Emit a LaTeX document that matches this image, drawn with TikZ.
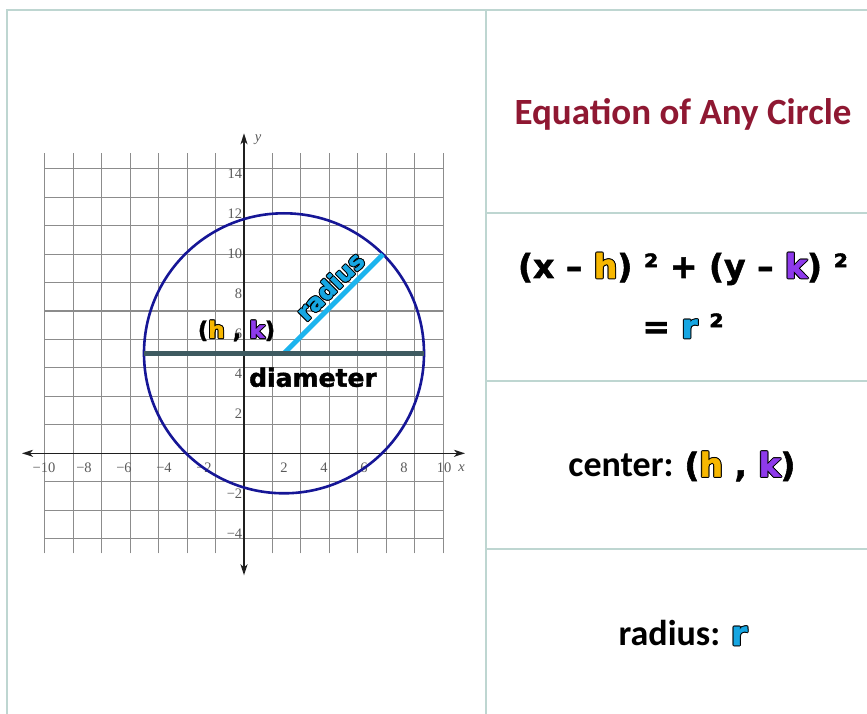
\documentclass[tikz,border=0pt]{standalone}
\usepackage{fontspec}
\setmainfont{Carlito}
\newfontfamily\dvfont{DejaVu Sans}[BoldFeatures={FakeBold=1.6}]
\newfontfamily\serfont{Liberation Serif}
\usetikzlibrary{arrows.meta}
\definecolor{tbl}{RGB}{190,214,209}
\definecolor{titlered}{RGB}{143,24,50}
\definecolor{hyel}{RGB}{247,183,0}
\definecolor{kpur}{RGB}{142,58,235}
\definecolor{rblue}{RGB}{22,166,226}
\definecolor{radline}{RGB}{28,180,238}
\definecolor{diamc}{RGB}{62,90,96}
\definecolor{circc}{RGB}{22,22,150}
\definecolor{gridc}{RGB}{140,140,140}
\definecolor{tickc}{RGB}{90,90,90}
\newcommand\heavy[1]{\dvfont\bfseries\fontsize{#1}{#1}\selectfont}
\newcommand\outl[2]{%
 \leavevmode
 \rlap{\kern1pt\textcolor{black}{#2}}%
 \rlap{\kern-1pt\textcolor{black}{#2}}%
 \rlap{\raisebox{1pt}{\textcolor{black}{#2}}}%
 \rlap{\raisebox{-1pt}{\textcolor{black}{#2}}}%
 \rlap{\kern0.7pt\raisebox{0.7pt}{\textcolor{black}{#2}}}%
 \rlap{\kern0.7pt\raisebox{-0.7pt}{\textcolor{black}{#2}}}%
 \rlap{\kern-0.7pt\raisebox{0.7pt}{\textcolor{black}{#2}}}%
 \rlap{\kern-0.7pt\raisebox{-0.7pt}{\textcolor{black}{#2}}}%
 \textcolor{#1}{#2}}
\tikzset{
  tblline/.style={draw=tbl, line width=2pt},
  gridline/.style={draw=gridc, line width=1.1pt},
  axisline/.style={draw=black!88, line width=1.4pt, {Stealth[length=11pt,width=7pt,inset=3pt]}-{Stealth[length=11pt,width=7pt,inset=3pt]}},
  ticklab/.style={text=tickc, inner sep=0pt, font=\serfont\fontsize{14.5}{14.5}\selectfont},
  txt/.style={inner sep=0pt}
}
\begin{document}
\begin{tikzpicture}[x=1pt,y=1pt]
\useasboundingbox (0,0) rectangle (867,713);
\clip (0,0) rectangle (867,713);
% table
\draw[tblline] (6.7,-5) -- (6.7,703) -- (875,703);
\draw[tblline] (485.7,-5) -- (485.7,703);
\draw[tblline] (485.7,500.3) -- (875,500.3);
\draw[tblline] (485.7,332) -- (875,332);
\draw[tblline] (485.7,163.7) -- (875,163.7);
% graph
\begin{scope}[shift={(244pt,259.7pt)}, x=20pt, y=20pt]
  \draw[gridline] (-10,-5) grid (10,15);
  \coordinate (xa) at (-11.1,0);
  \coordinate (xb) at (11.05,0);
  \coordinate (ya) at (0,-6.1);
  \coordinate (yb) at (0,16);
  \draw[axisline] (xa) -- (xb);
  \draw[axisline] (ya) -- (yb);
  \foreach \v/\t in {-10/−10,-8/−8,-6/−6,-4/−4,-2/−2,2/2,4/4,6/6,8/8,10/10}
    \node[ticklab, anchor=base] (xt\v) at (\v,-0.95) {\t};
  \foreach \v/\t in {14/14,12/12,10/10,8/8,6/6,4/4,2/2,-2/−2,-4/−4}
    \node[ticklab, anchor=east] (yt\v) at (-0.08,\v) {\t};
  \node[ticklab, anchor=base] (xlab) at (10.88,-0.93) {\itshape x};
  \node[ticklab] (ylab) at (0.7,15.67) {\itshape y};
  \coordinate (c) at (2,5);
  \coordinate (rend) at (6.95,9.95);
  \coordinate (dl) at (-5,5);
  \coordinate (dr) at (9,5);
  \draw[circc, line width=2.6pt] (c) circle[radius=7];
  \draw[radline, line width=5pt] (c) -- (rend);
  \draw[diamc, line width=5pt] (dl) -- (dr);
\end{scope}
\node[txt, anchor=base] (hk) at (236.5,375) {\heavy{23}(\outl{hyel}{h} , \outl{kpur}{k})};
\node[txt, anchor=base west] (diam) at (249,326.3) {\heavy{25}diameter};
\node[txt, rotate=45] (radlab) at (330,427) {\heavy{24}\outl{rblue}{radius}};
% right panel
\node[txt, anchor=base, text=titlered] (title) at (683,588) {\fontsize{37}{40}\selectfont\bfseries Equation of Any Circle};
\node[txt, anchor=base] (eq1) at (683,435) {\heavy{33}(x – \outl{hyel}{h}) ² + (y – \outl{kpur}{k}) ²};
\node[txt, anchor=base] (eq2) at (683,375) {\heavy{33}= \outl{rblue}{r} ²};
\node[txt, anchor=base] (cen) at (682,236.3) {\fontsize{36}{40}\selectfont\bfseries center: {\heavy{33}(\outl{hyel}{h} , \outl{kpur}{k})}};
\node[txt, anchor=base] (rad) at (683,68) {\fontsize{36}{40}\selectfont\bfseries radius: {\heavy{33}\outl{rblue}{r}}};
\end{tikzpicture}
\end{document}
